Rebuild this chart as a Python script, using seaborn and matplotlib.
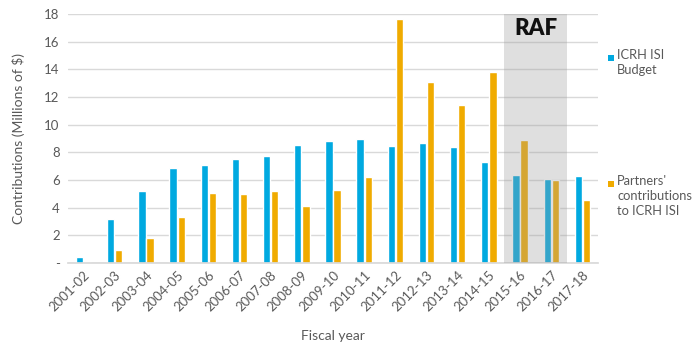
import matplotlib
matplotlib.use("Agg")
import matplotlib.pyplot as plt
import seaborn as sns
import pandas as pd
from matplotlib.patches import Rectangle

years = ["2001-02", "2002-03", "2003-04", "2004-05", "2005-06", "2006-07", "2007-08",
         "2008-09", "2009-10", "2010-11", "2011-12", "2012-13", "2013-14", "2014-15",
         "2015-16", "2016-17", "2017-18"]
budget = [0.40, 3.2, 5.22, 6.89, 7.1, 7.54, 7.76, 8.55, 8.84, 8.98, 8.48, 8.70, 8.41,
          7.33, 6.38, 6.09, 6.31]
partners = [0.1, 0.96, 1.83, 3.35, 5.08, 5.01, 5.22, 4.14, 5.3, 6.24, 17.66, 13.1, 11.44,
            13.83, 8.91, 6.02, 4.58]
series_names = ["ICRH ISI\nBudget", "Partners'\ncontributions\nto ICRH ISI"]
y_ticks = [0, 2, 4, 6, 8, 10, 12, 14, 16, 18]
y_ticklabels = ["-", "2", "4", "6", "8", "10", "12", "14", "16", "18"]

df = pd.DataFrame({
    "year": years * 2,
    "value": budget + partners,
    "series": [series_names[0]] * len(years) + [series_names[1]] * len(years),
})

sns.set_theme(style="white")
plt.rcParams["font.family"] = ["Lato", "DejaVu Sans"]
gray_text = "#595959"
colors = ["#00A9E0", "#F0AB00"]

fig = plt.figure(figsize=(7, 3.5), dpi=100)
ax = fig.add_axes([68 / 700, 1 - 263 / 350, (598 - 68) / 700, (263 - 14) / 350])

sns.barplot(data=df, x="year", y="value", hue="series", palette=colors, saturation=1,
            width=0.52, gap=0.1, ax=ax, legend=False, zorder=2)

ax.set_ylim(0, 18)
ax.set_xlim(-0.5, len(years) - 0.5)
ax.set_yticks(y_ticks)
ax.set_yticklabels(y_ticklabels)
ax.yaxis.grid(True, color="#d9d9d9", linewidth=1, zorder=0)
ax.set_axisbelow(True)
for s in ["top", "right", "left"]:
    ax.spines[s].set_visible(False)
ax.spines["bottom"].set_color("#d9d9d9")
ax.tick_params(axis="both", length=0, colors=gray_text, labelsize=9.5, pad=6)
plt.setp(ax.get_xticklabels(), rotation=45, ha="right", rotation_mode="anchor")
ax.tick_params(axis="x", pad=4)

# RAF shading (overlay)
ax.axvspan(13.5, 15.5, ymin=0, ymax=1, color="#9e9e9e", alpha=0.33, zorder=3, lw=0)
ax.text(14.5, 16.95, "RAF", ha="center", va="center", fontsize=16, fontweight="heavy",
        color="#111111", zorder=4)

ax.set_xlabel("Fiscal year", color=gray_text, fontsize=10, labelpad=12)
ax.set_ylabel("Contributions (Millions of $)", color=gray_text, fontsize=10, labelpad=14)

# Legend (Excel-style: square aligned with first line of each label)
legend_tops = [49, 175]
for c, name, top in zip(colors, series_names, legend_tops):
    fig.add_artist(Rectangle((608 / 700, 1 - (top + 12) / 350), 6 / 700, 6 / 350,
                             transform=fig.transFigure, facecolor=c, edgecolor="none"))
    fig.text(617 / 700, 1 - top / 350, name, ha="left", va="top", fontsize=9.3,
             color=gray_text, linespacing=1.3)

fig.savefig("out.png", dpi=100)
